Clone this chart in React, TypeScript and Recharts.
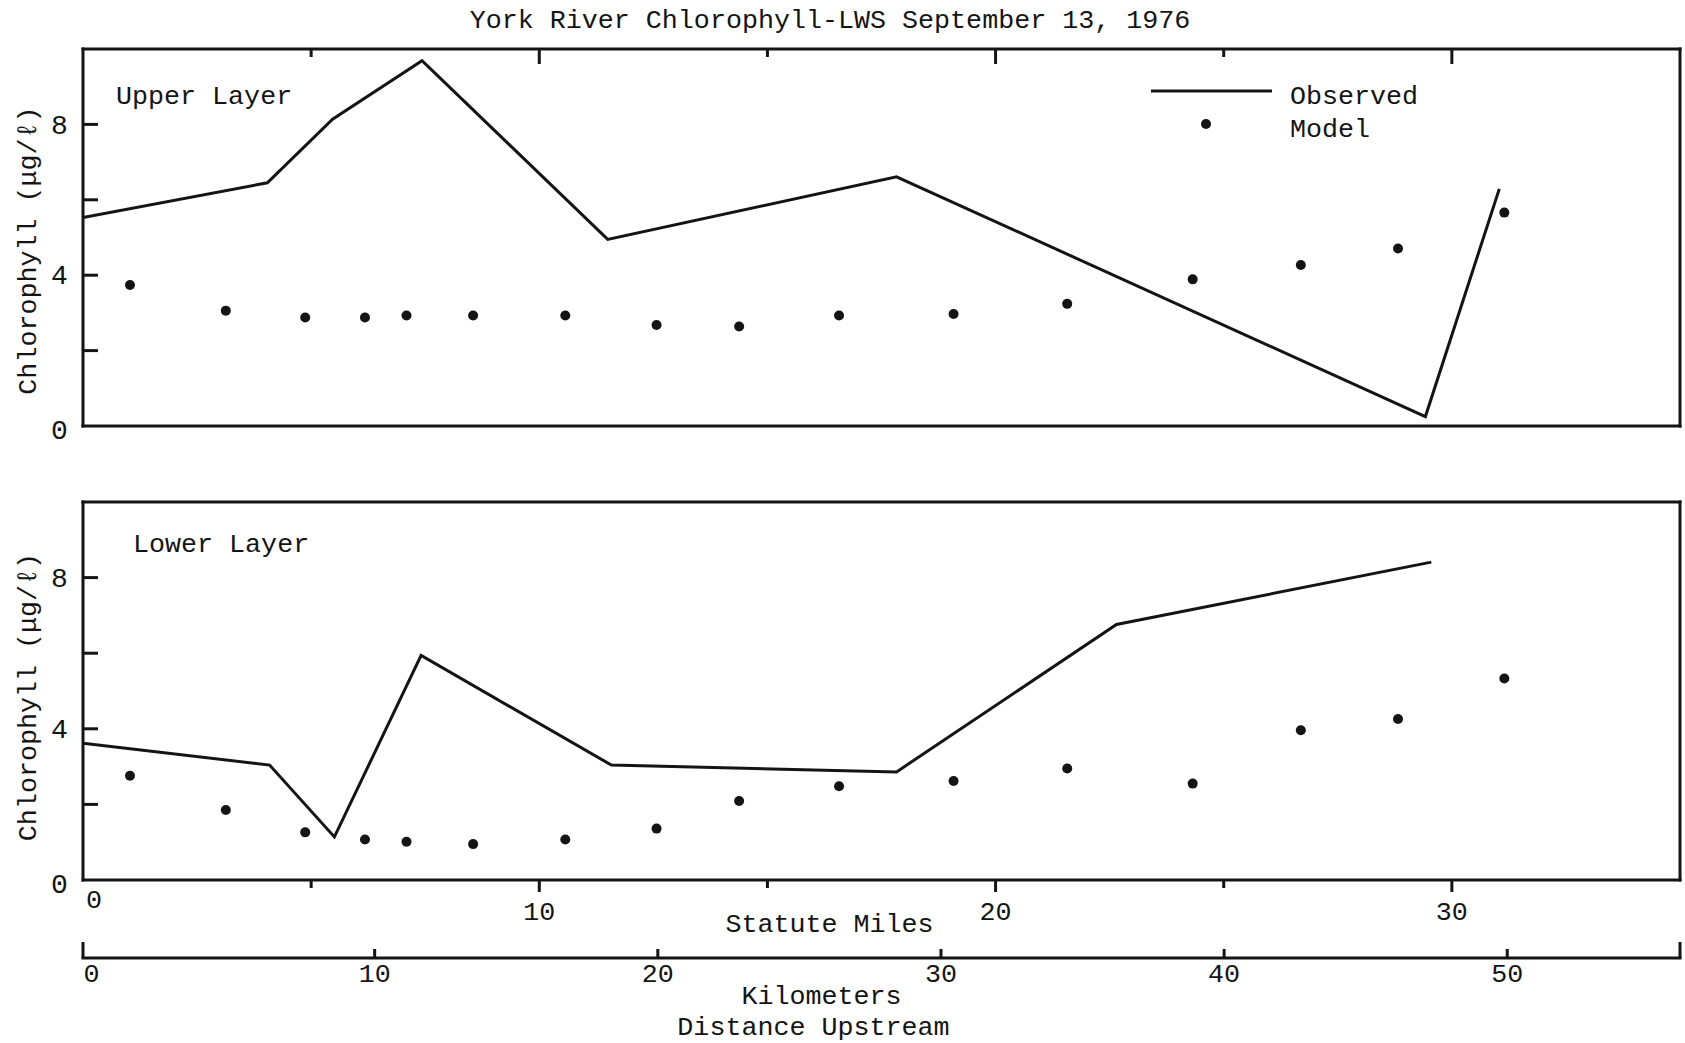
import { ComposedChart, Line, Scatter, XAxis, YAxis, Legend } from 'recharts'

const INK = '#141414'
const FONT = "'Liberation Mono', 'DejaVu Sans Mono', monospace"
const TEXT_SIZE = 26.7

// model grid stations, statute miles upstream
const modelMiles = [1.03, 3.13, 4.87, 6.18, 7.09, 8.55, 10.57, 12.57, 14.38, 16.57, 19.08, 21.57, 24.32, 26.69, 28.82, 31.15]
const upperModelChl = [3.74, 3.06, 2.88, 2.88, 2.93, 2.93, 2.93, 2.68, 2.64, 2.93, 2.97, 3.24, 3.89, 4.27, 4.71, 5.66]
const lowerModelChl = [2.76, 1.85, 1.26, 1.07, 1.01, 0.95, 1.07, 1.36, 2.09, 2.48, 2.62, 2.95, 2.55, 3.96, 4.26, 5.33]

// field stations
const upperObsMiles = [0, 4.04, 5.47, 7.43, 11.5, 17.83, 29.42, 31.04]
const upperObsChl = [5.53, 6.45, 8.14, 9.69, 4.95, 6.61, 0.25, 6.29]
const lowerObsMiles = [0, 4.09, 5.51, 7.41, 11.58, 17.83, 22.65, 29.55]
const lowerObsChl = [3.62, 3.04, 1.14, 5.94, 3.04, 2.86, 6.76, 8.41]

const mileTicks = [0, 5, 10, 15, 20, 25, 30]
const mileLabels = [0, 10, 20, 30]
const kmLabels = [0, 10, 20, 30, 40, 50]
const chlTicks = [0, 2, 4, 6, 8]
const chlLabels = [0, 4, 8]

const MILE_DOMAIN: [number, number] = [0, 35]
// the printed km scale sits a few pixels right of the mile scale
const KM_DOMAIN: [number, number] = [-0.3, 56.1]
const CHL_DOMAIN: [number, number] = [0, 10]
const KM_PER_MILE = 1.609344

const toPoints = (xs: number[], ys: number[]) => xs.map((x, i) => ({ x, y: ys[i] }))

const upperModel = toPoints(modelMiles, upperModelChl)
const lowerModel = toPoints(modelMiles, lowerModelChl)
const upperObserved = toPoints(upperObsMiles, upperObsChl)
const lowerObserved = toPoints(lowerObsMiles, lowerObsChl)
const kmStations = modelMiles.map((m) => ({ km: m * KM_PER_MILE }))

const frame = { stroke: INK, strokeWidth: 3, strokeLinecap: 'square' as const }

const textProps = { fontFamily: FONT, fontSize: TEXT_SIZE, fill: INK }

const ChlTick = ({ x, y, payload }: any) => {
  const v = payload.value
  return (
    <g>
      {v > 0 && <line x1={x} x2={x + 15} y1={y} y2={y} stroke={INK} strokeWidth={3} />}
      {chlLabels.includes(v) && (
        <text x={x - 23.5} y={y + (v === 0 ? 4 : 0)} dy="0.33em" textAnchor="middle" {...textProps} fontSize={28}>
          {v}
        </text>
      )}
    </g>
  )
}

const TopTick = ({ x, y, payload }: any) =>
  payload.value > 0 ? (
    <line x1={x} x2={x} y1={y} y2={y + (payload.value % 10 === 0 ? 15 : 8)} stroke={INK} strokeWidth={3} />
  ) : (
    <g />
  )

const MileTick = ({ x, y, payload }: any) => {
  const v = payload.value
  return (
    <g>
      {v > 0 && <line x1={x} x2={x} y1={y} y2={y + (v % 10 === 0 ? 12 : 8)} stroke={INK} strokeWidth={3} />}
      {mileLabels.includes(v) && (
        <text x={v === 0 ? x + 11 : x} y={y + (v === 0 ? 28 : 40)} textAnchor="middle" {...textProps}>
          {v}
        </text>
      )}
    </g>
  )
}

const KmTick = ({ x, y, payload }: any) => {
  const v = payload.value
  const end = v === KM_DOMAIN[0] || v === KM_DOMAIN[1]
  return (
    <g>
      {v !== 0 && <line x1={x} x2={x} y1={y} y2={y - (end ? 16 : 9)} stroke={INK} strokeWidth={3} />}
      {!end && (
        <text x={x} y={y + 24} textAnchor="middle" {...textProps}>
          {v}
        </text>
      )}
    </g>
  )
}

const chlLabel = (shift: number) => (p: any) => {
  const vb = p.viewBox
  const cy = vb.y + vb.height / 2 + shift
  return (
    <text x={36} y={cy} transform={`rotate(-90, 36, ${cy})`} textAnchor="middle" {...textProps}>
      Chlorophyll (μg/ℓ)
    </text>
  )
}

const milesTitle = (p: any) => {
  const vb = p.viewBox
  return (
    <text x={vb.x + vb.width / 2 - 52} y={vb.y + 52} textAnchor="middle" {...textProps}>
      Statute Miles
    </text>
  )
}

const kmTitle = (p: any) => {
  const vb = p.viewBox
  const cx = vb.x + vb.width / 2
  return (
    <g>
      <text x={cx - 60} y={vb.y + 46} textAnchor="middle" {...textProps}>
        Kilometers
      </text>
      <text x={cx - 68} y={vb.y + 77} textAnchor="middle" {...textProps}>
        Distance Upstream
      </text>
    </g>
  )
}

// line entry first, then the dot
const LegendBox = ({ payload }: any) => {
  const entries = [...(payload || [])].sort((a: any, b: any) => (a.type === 'line' ? -1 : 0) - (b.type === 'line' ? -1 : 0))
  return (
    <svg width={300} height={80} style={{ display: 'block', overflow: 'visible' }}>
      {entries.map((entry: any, i: number) => {
        const base = 34 + i * 33.3
        return (
          <g key={entry.value}>
            {entry.type === 'line' ? (
              <line x1={11} x2={132} y1={base - 13} y2={base - 13} stroke={INK} strokeWidth={3} />
            ) : (
              <circle cx={66} cy={base - 13.3} r={5} fill={INK} />
            )}
            <text x={150} y={base} {...textProps}>
              {entry.value}
            </text>
          </g>
        )
      })}
    </svg>
  )
}

const Dot = (p: any) => <circle cx={p.cx} cy={p.cy} r={5} fill={INK} />

function UpperPanel() {
  return (
    <ComposedChart width={1685} height={460} data={upperModel} margin={{ top: 48, right: 4, bottom: 33, left: 23 }}>
      <XAxis xAxisId="mi" dataKey="x" type="number" domain={MILE_DOMAIN} allowDataOverflow height={1} tick={false} tickLine={false} axisLine={frame} />
      <XAxis xAxisId="top" orientation="top" dataKey="x" type="number" domain={MILE_DOMAIN} allowDataOverflow height={1} ticks={mileTicks} interval={0} tick={TopTick} tickSize={0} tickMargin={0} tickLine={false} axisLine={frame} />
      <YAxis yAxisId="left" dataKey="y" type="number" domain={CHL_DOMAIN} allowDataOverflow width={60} ticks={chlTicks} interval={0} tick={ChlTick} tickSize={0} tickMargin={0} tickLine={false} axisLine={frame} label={{ content: chlLabel(13) }} />
      <YAxis yAxisId="right" orientation="right" dataKey="y" type="number" domain={CHL_DOMAIN} allowDataOverflow width={1} tick={false} tickLine={false} axisLine={frame} />
      <Legend verticalAlign="middle" align="center" layout="horizontal" width={300} height={80} wrapperStyle={{ left: 1140, top: 70 }} content={LegendBox} />
      <Line xAxisId="mi" yAxisId="left" name="Observed" data={upperObserved} dataKey="y" type="linear" stroke={INK} strokeWidth={3} dot={false} activeDot={false} isAnimationActive={false} />
      <Scatter xAxisId="top" yAxisId="left" name="Model" data={upperModel} dataKey="y" fill={INK} shape={Dot} isAnimationActive={false} />
    </ComposedChart>
  )
}

function LowerPanel() {
  return (
    <ComposedChart width={1685} height={583} data={lowerModel} margin={{ top: 41, right: 4, bottom: 85, left: 23 }}>
      <XAxis xAxisId="mi" dataKey="x" type="number" domain={MILE_DOMAIN} allowDataOverflow height={78} ticks={mileTicks} interval={0} tick={MileTick} tickSize={0} tickMargin={0} tickLine={false} axisLine={frame} label={{ content: milesTitle }} />
      <XAxis xAxisId="top" orientation="top" dataKey="x" type="number" domain={MILE_DOMAIN} allowDataOverflow height={1} tick={false} tickLine={false} axisLine={frame} />
      <YAxis yAxisId="left" dataKey="y" type="number" domain={CHL_DOMAIN} allowDataOverflow width={60} ticks={chlTicks} interval={0} tick={ChlTick} tickSize={0} tickMargin={0} tickLine={false} axisLine={frame} label={{ content: chlLabel(6) }} />
      <YAxis yAxisId="right" orientation="right" dataKey="y" type="number" domain={CHL_DOMAIN} allowDataOverflow width={1} tick={false} tickLine={false} axisLine={frame} />
      <Line xAxisId="mi" yAxisId="left" name="Observed" data={lowerObserved} dataKey="y" type="linear" stroke={INK} strokeWidth={3} dot={false} activeDot={false} isAnimationActive={false} />
      <Scatter xAxisId="mi" yAxisId="left" name="Model" data={lowerModel} dataKey="y" fill={INK} shape={Dot} isAnimationActive={false} />
    </ComposedChart>
  )
}

// second distance scale under the lower panel
function KmScale() {
  return (
    <ComposedChart width={1685} height={143} data={kmStations} margin={{ top: 0, right: 5, bottom: 0, left: 83 }}>
      <XAxis xAxisId="km" dataKey="km" type="number" domain={KM_DOMAIN} allowDataOverflow height={85} ticks={[KM_DOMAIN[0], ...kmLabels, KM_DOMAIN[1]]} interval={0} tick={KmTick} tickSize={0} tickMargin={0} tickLine={false} axisLine={frame} label={{ content: kmTitle }} />
    </ComposedChart>
  )
}

export default function App() {
  return (
    <div style={{ position: 'absolute', left: 0, top: 0, width: 1685, height: 1043, background: '#fff', overflow: 'hidden' }}>
      <div style={{ position: 'absolute', left: 0, top: 0 }}>
        <UpperPanel />
      </div>
      <div style={{ position: 'absolute', left: 0, top: 460 }}>
        <LowerPanel />
      </div>
      <div style={{ position: 'absolute', left: 0, top: 900 }}>
        <KmScale />
      </div>
      <svg width={1685} height={1043} style={{ position: 'absolute', left: 0, top: 0, pointerEvents: 'none' }}>
        <text x={830} y={28} textAnchor="middle" {...textProps}>
          York River Chlorophyll-LWS September 13, 1976
        </text>
        <text x={116} y={104} {...textProps}>
          Upper Layer
        </text>
        <text x={133} y={552} {...textProps}>
          Lower Layer
        </text>
      </svg>
    </div>
  )
}
